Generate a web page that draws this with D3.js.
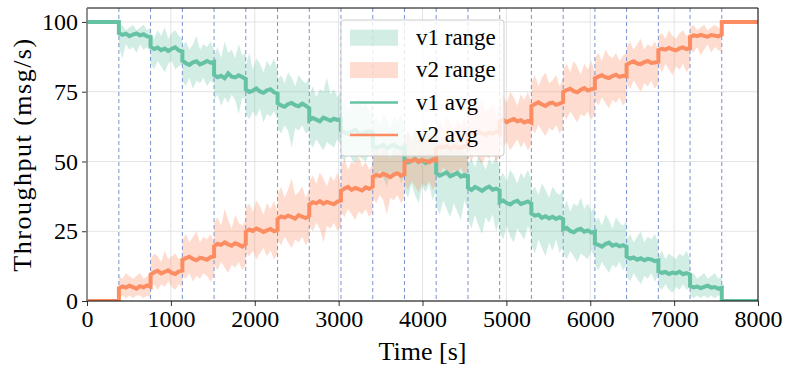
<!DOCTYPE html>
<meta charset="utf-8">
<script src="https://d3js.org/d3.v7.min.js"></script>
<style>
  body { margin: 0; background: #fff; }
  text { font-family: "Liberation Serif", "Times New Roman", serif; fill: #000; }
</style>
<div id="my_dataviz"></div>

<script>
// Phase boundaries in seconds (dashed lines are the inner ones)
var stepBounds = [0, 380, 758, 1137, 1515, 1893, 2272, 2650, 3028, 3407, 3785,
                  4163, 4542, 4920, 5298, 5677, 6055, 6433, 6812, 7190, 7568, 8000];
var xTicks = [0, 1000, 2000, 3000, 4000, 5000, 6000, 7000, 8000];
var yTicks = [0, 25, 50, 75, 100];
var legendLabels = ["v1 range", "v2 range", "v1 avg", "v2 avg"];

// v1: one list of samples per phase
var v1Avg = [
  [100, 100],
  [96.0, 95.4, 95.8, 94.9, 95.5, 95.9, 95.2, 95.6, 94.8, 94.6],
  [91.2, 90.3, 90.8, 89.9, 90.5, 89.6, 90.4, 90.9, 89.8, 89.4],
  [86.1, 85.2, 84.6, 85.5, 85.9, 84.8, 85.3, 86.0, 85.4, 85.7],
  [81.0, 80.2, 80.7, 79.8, 81.6, 80.4, 80.1, 80.9, 80.3, 79.6],
  [75.8, 74.9, 75.4, 76.2, 75.1, 74.6, 75.5, 75.9, 74.8, 74.3],
  [70.9, 70.1, 69.6, 70.6, 71.0, 70.2, 69.8, 70.7, 70.0, 69.1],
  [64.8, 65.6, 65.0, 64.4, 65.7, 65.2, 64.6, 65.3, 64.9, 65.1],
  [61.2, 60.4, 59.8, 60.7, 61.4, 60.1, 59.6, 60.5, 60.9, 60.2],
  [55.6, 54.8, 55.3, 56.0, 54.7, 55.4, 55.9, 55.1, 54.6, 55.2],
  [50.4, 49.6, 50.2, 50.9, 49.8, 50.5, 49.4, 50.1, 50.7, 49.9],
  [45.8, 44.9, 45.5, 46.1, 44.7, 45.3, 45.9, 44.6, 45.2, 44.8],
  [40.6, 39.8, 40.9, 40.2, 39.5, 40.4, 41.0, 39.9, 40.3, 39.6],
  [35.4, 36.0, 35.1, 34.6, 35.5, 35.9, 34.8, 35.2, 35.7, 34.9],
  [31.3, 30.6, 30.9, 29.8, 30.4, 29.6, 30.2, 29.4, 30.0, 29.3],
  [25.7, 26.2, 25.1, 24.6, 25.5, 25.9, 24.8, 25.3, 24.5, 24.9],
  [20.6, 20.1, 19.5, 20.4, 20.9, 19.8, 20.3, 19.6, 20.0, 19.4],
  [15.9, 15.2, 15.6, 14.8, 15.3, 14.6, 15.1, 14.9, 14.3, 14.6],
  [10.6, 10.1, 10.4, 9.7, 10.2, 9.9, 10.5, 9.6, 10.0, 9.5],
  [5.4, 4.9, 5.2, 4.6, 5.1, 5.5, 4.8, 5.0, 4.4, 4.7],
  [0, 0]
];
var v1Hi = [
  [100, 100],
  [98, 99, 97, 98, 99, 97, 98, 99, 97, 98],
  [96, 94, 97, 95, 98, 94, 96, 97, 95, 94],
  [91, 93, 90, 92, 95, 90, 92, 91, 93, 90],
  [88, 91, 87, 93, 89, 90, 87, 92, 88, 89],
  [84, 89, 83, 87, 85, 82, 86, 84, 87, 83],
  [79, 81, 78, 82, 80, 77, 81, 79, 78, 80],
  [74, 77, 73, 76, 75, 80, 74, 76, 73, 75],
  [69, 72, 68, 71, 70, 73, 69, 71, 68, 70],
  [64, 66, 63, 67, 65, 62, 66, 64, 67, 63],
  [59, 61, 58, 62, 60, 57, 61, 59, 62, 58],
  [54, 57, 53, 56, 55, 58, 54, 56, 53, 55],
  [49, 51, 48, 52, 50, 47, 51, 49, 52, 48],
  [44, 46, 43, 47, 45, 42, 46, 44, 47, 43],
  [39, 41, 38, 42, 40, 37, 41, 39, 38, 40],
  [33, 36, 32, 35, 34, 37, 33, 35, 32, 34],
  [28, 30, 27, 31, 29, 26, 30, 28, 27, 29],
  [22, 24, 21, 23, 25, 21, 23, 22, 24, 21],
  [16, 18, 15, 17, 16, 15, 17, 16, 18, 15],
  [9, 10, 8, 9, 10, 8, 9, 10, 8, 9],
  [0, 0]
];
var v1Lo = [
  [100, 100],
  [91, 87, 92, 90, 91, 89, 92, 90, 91, 89],
  [85, 83, 86, 84, 82, 85, 86, 83, 84, 85],
  [79, 77, 80, 76, 79, 78, 80, 77, 79, 78],
  [72, 74, 70, 73, 71, 74, 72, 67, 73, 72],
  [67, 65, 68, 66, 69, 64, 67, 66, 68, 65],
  [62, 60, 63, 61, 55, 62, 61, 63, 60, 61],
  [57, 55, 58, 56, 54, 57, 56, 55, 58, 56],
  [52, 50, 53, 51, 49, 52, 51, 50, 53, 51],
  [45, 43, 47, 44, 41, 46, 44, 47, 42, 45],
  [40, 37, 42, 38, 35, 41, 39, 42, 36, 40],
  [34, 31, 36, 33, 30, 35, 32, 29, 36, 33],
  [29, 26, 31, 27, 24, 30, 28, 31, 25, 29],
  [25, 22, 27, 23, 21, 26, 24, 22, 27, 24],
  [20, 17, 22, 19, 16, 21, 18, 22, 17, 20],
  [17, 15, 18, 16, 14, 17, 16, 15, 18, 16],
  [13, 11, 14, 12, 10, 13, 12, 14, 11, 13],
  [9, 7, 10, 8, 6, 9, 8, 10, 7, 9],
  [5, 4, 6, 4, 3, 5, 4, 6, 4, 5],
  [2, 1, 2, 1, 2, 1, 2, 1, 2, 2],
  [0, 0]
];

// v2
var v2Avg = [
  [0, 0],
  [4.6, 5.2, 4.8, 5.5, 5.0, 4.4, 5.3, 4.9, 5.6, 5.1],
  [9.5, 10.3, 10.8, 9.9, 10.4, 11.0, 10.1, 9.7, 10.6, 10.9],
  [14.7, 15.4, 15.9, 15.1, 14.6, 15.5, 15.2, 14.8, 15.7, 16.0],
  [19.6, 20.5, 20.1, 21.0, 20.3, 19.8, 20.7, 20.2, 19.5, 20.4],
  [24.8, 25.6, 25.1, 26.0, 25.4, 24.7, 25.3, 25.8, 25.0, 25.5],
  [29.4, 30.3, 29.9, 30.6, 30.1, 29.5, 30.8, 30.2, 29.7, 30.5],
  [34.6, 35.4, 35.0, 35.8, 34.9, 35.5, 35.1, 34.7, 35.6, 36.0],
  [39.5, 40.3, 40.9, 39.8, 40.5, 40.1, 39.6, 40.7, 40.2, 41.0],
  [44.5, 45.2, 44.8, 45.6, 45.0, 44.4, 45.3, 45.8, 44.9, 45.4],
  [49.6, 50.4, 50.1, 50.8, 49.9, 50.5, 50.2, 49.7, 50.6, 50.3],
  [54.7, 55.3, 55.0, 55.7, 54.6, 55.4, 55.1, 54.8, 55.5, 55.2],
  [59.6, 60.3, 59.9, 60.6, 60.1, 59.5, 60.4, 60.0, 60.7, 60.2],
  [64.3, 64.9, 64.1, 64.7, 65.2, 64.4, 64.8, 64.0, 64.5, 63.9],
  [69.8, 70.6, 71.2, 70.4, 69.9, 70.8, 71.1, 70.3, 70.7, 71.3],
  [74.9, 75.6, 76.1, 75.2, 74.8, 75.7, 76.3, 75.4, 75.9, 76.2],
  [79.8, 80.4, 80.9, 80.2, 79.9, 80.6, 81.1, 80.3, 80.7, 80.5],
  [84.7, 85.4, 85.9, 85.1, 84.9, 85.6, 86.0, 85.3, 85.5, 85.8],
  [89.9, 90.4, 90.1, 90.7, 90.2, 89.8, 90.5, 90.9, 90.3, 90.6],
  [94.6, 95.2, 94.9, 95.4, 95.0, 94.7, 95.3, 95.1, 94.8, 95.5],
  [100, 100]
];
var v2Hi = [
  [0, 0],
  [9, 8, 10, 9, 8, 9, 10, 8, 9, 9],
  [15, 17, 16, 14, 18, 15, 16, 17, 15, 16],
  [22, 24, 21, 23, 25, 21, 23, 22, 24, 21],
  [28, 30, 27, 33, 29, 26, 31, 28, 27, 29],
  [33, 35, 32, 36, 34, 31, 35, 33, 36, 32],
  [38, 41, 37, 40, 44, 38, 39, 41, 37, 40],
  [43, 45, 42, 46, 44, 41, 45, 43, 46, 42],
  [48, 51, 47, 50, 49, 52, 48, 50, 47, 49],
  [53, 55, 52, 56, 54, 51, 55, 53, 56, 52],
  [58, 61, 57, 60, 62, 58, 59, 61, 57, 60],
  [63, 65, 62, 66, 64, 61, 65, 63, 66, 62],
  [68, 71, 67, 70, 72, 68, 69, 71, 67, 70],
  [72, 74, 71, 75, 73, 70, 74, 72, 75, 71],
  [78, 81, 77, 80, 82, 78, 79, 81, 77, 80],
  [83, 85, 82, 86, 84, 81, 85, 83, 86, 82],
  [87, 89, 86, 90, 88, 87, 89, 86, 88, 89],
  [91, 93, 90, 92, 94, 90, 92, 91, 93, 90],
  [95, 96, 94, 97, 95, 94, 96, 97, 95, 96],
  [98, 99, 97, 98, 99, 97, 98, 99, 98, 97],
  [100, 100]
];
var v2Lo = [
  [0, 0],
  [1, 2, 1, 2, 1, 2, 2, 1, 2, 1],
  [5, 6, 4, 6, 5, 7, 5, 4, 6, 5],
  [9, 8, 10, 7, 9, 8, 10, 9, 7, 9],
  [13, 11, 14, 12, 10, 13, 12, 14, 11, 13],
  [17, 16, 18, 15, 17, 19, 16, 18, 15, 17],
  [22, 20, 23, 21, 19, 22, 21, 23, 20, 22],
  [27, 25, 28, 26, 21, 27, 26, 28, 25, 27],
  [32, 30, 33, 31, 29, 32, 31, 33, 30, 32],
  [37, 35, 38, 36, 31, 37, 36, 38, 35, 37],
  [42, 40, 43, 41, 39, 42, 41, 43, 40, 42],
  [47, 45, 48, 46, 44, 47, 46, 48, 45, 47],
  [52, 50, 53, 51, 49, 52, 51, 53, 50, 52],
  [56, 55, 57, 54, 56, 58, 55, 57, 54, 56],
  [62, 60, 63, 61, 59, 62, 61, 63, 60, 62],
  [67, 65, 68, 66, 64, 67, 66, 68, 65, 67],
  [72, 70, 73, 71, 69, 72, 71, 73, 70, 72],
  [78, 76, 79, 77, 75, 78, 77, 79, 76, 78],
  [84, 82, 85, 83, 81, 84, 83, 85, 82, 84],
  [90, 89, 91, 88, 90, 92, 89, 91, 90, 89],
  [100, 100]
];

var colorV1 = "#66c2a5", colorV2 = "#fc8d62";

// Dimensions
var margin = {top: 8, right: 34, bottom: 74, left: 87},
    width = 792 - margin.left - margin.right,
    height = 375 - margin.top - margin.bottom;

var svg = d3.select("#my_dataviz")
            .append("svg")
            .attr("width", width + margin.left + margin.right)
            .attr("height", height + margin.top + margin.bottom)
            .append("g")
            .attr("transform", "translate(" + margin.left + "," + margin.top + ")");

var x = d3.scaleLinear().domain([0, 8000]).range([0, width]);
var y = d3.scaleLinear().domain([0, 105]).range([height, 0]);

// Samples are spread evenly across each phase
function buildSeries(avg, lo, hi) {
  var pts = [];
  avg.forEach(function(vals, k) {
    var t0 = stepBounds[k], t1 = stepBounds[k + 1];
    vals.forEach(function(v, i) {
      pts.push({t: t0 + (t1 - t0) * i / (vals.length - 1), avg: v, lo: lo[k][i], hi: hi[k][i]});
    });
  });
  return pts;
}
var s1 = buildSeries(v1Avg, v1Lo, v1Hi);
var s2 = buildSeries(v2Avg, v2Lo, v2Hi);

svg.append("clipPath").attr("id", "clip")
   .append("rect").attr("width", width).attr("height", height);

// Grid
svg.append("g").selectAll("line").data(xTicks).enter().append("line")
   .attr("x1", function(d) { return x(d); }).attr("x2", function(d) { return x(d); })
   .attr("y1", 0).attr("y2", height)
   .attr("stroke", "#e3e3e3").attr("stroke-width", 1);
svg.append("g").selectAll("line").data(yTicks).enter().append("line")
   .attr("x1", 0).attr("x2", width)
   .attr("y1", function(d) { return y(d); }).attr("y2", function(d) { return y(d); })
   .attr("stroke", "#e3e3e3").attr("stroke-width", 1);

var plot = svg.append("g").attr("clip-path", "url(#clip)");

var area = d3.area()
             .x(function(d) { return x(d.t); })
             .y0(function(d) { return y(d.lo); })
             .y1(function(d) { return y(d.hi); });
var line = d3.line()
             .x(function(d) { return x(d.t); })
             .y(function(d) { return y(d.avg); });

plot.append("path").datum(s1).attr("d", area).attr("fill", colorV1).attr("fill-opacity", 0.3);
plot.append("path").datum(s2).attr("d", area).attr("fill", colorV2).attr("fill-opacity", 0.3);

// Phase changes
plot.append("g").selectAll("line").data(stepBounds.slice(1, -1)).enter().append("line")
    .attr("x1", function(d) { return x(d); }).attr("x2", function(d) { return x(d); })
    .attr("y1", 0).attr("y2", height)
    .attr("stroke", "#7b93d1").attr("stroke-width", 1)
    .attr("stroke-dasharray", "4,3");

plot.append("path").datum(s1).attr("d", line)
    .attr("fill", "none").attr("stroke", colorV1).attr("stroke-width", 4)
    .attr("stroke-linejoin", "miter");
plot.append("path").datum(s2).attr("d", line)
    .attr("fill", "none").attr("stroke", colorV2).attr("stroke-width", 4)
    .attr("stroke-linejoin", "miter");

// Axes
var xAxis = svg.append("g")
               .attr("transform", "translate(0," + height + ")")
               .call(d3.axisBottom(x).tickValues(xTicks).tickFormat(d3.format("d"))
                       .tickSize(5).tickSizeOuter(0).tickPadding(4));
var yAxis = svg.append("g")
               .call(d3.axisLeft(y).tickValues(yTicks).tickFormat(d3.format("d"))
                       .tickSize(5).tickSizeOuter(0).tickPadding(4));
[xAxis, yAxis].forEach(function(a) {
  a.select(".domain").remove();
  a.selectAll("text").attr("font-size", 24).attr("font-family", "Liberation Serif").attr("fill", "#000");
  a.selectAll(".tick line").attr("stroke", "#333");
});

// Spines
svg.append("line").attr("x1", 0).attr("x2", width).attr("y1", 0).attr("y2", 0).attr("stroke", "#000");
svg.append("line").attr("x1", width).attr("x2", width).attr("y1", 0).attr("y2", height).attr("stroke", "#000");
svg.append("line").attr("x1", 0).attr("x2", width).attr("y1", height).attr("y2", height).attr("stroke", "#000");
svg.append("line").attr("x1", 0).attr("x2", 0).attr("y1", 0).attr("y2", height)
   .attr("stroke", "#7a7a7a").attr("stroke-width", 1.6);

// Axis labels
svg.append("text")
   .attr("x", width / 2).attr("y", height + 59)
   .attr("text-anchor", "middle").attr("font-size", 26)
   .text("Time [s]");
svg.append("text")
   .attr("transform", "translate(" + (-56) + "," + (height / 2) + ") rotate(-90)")
   .attr("text-anchor", "middle").attr("font-size", 26).attr("letter-spacing", 1.5)
   .text("Throughput (msg/s)");

// Legend
var legend = svg.append("g").attr("transform", "translate(254,12)");
legend.append("rect")
      .attr("width", 163).attr("height", 136).attr("rx", 3)
      .attr("fill", "#fff").attr("fill-opacity", 0.8)
      .attr("stroke", "#cccccc").attr("stroke-width", 1);
var entries = legend.selectAll("g.entry").data(legendLabels).enter().append("g")
      .attr("transform", function(d, i) { return "translate(9," + (17.7 + i * 32.4) + ")"; });
entries.each(function(d, i) {
  var g = d3.select(this);
  var c = (i % 2 === 0) ? colorV1 : colorV2;
  if (i < 2) {
    g.append("rect").attr("x", 0).attr("y", -8).attr("width", 48).attr("height", 16)
     .attr("fill", c).attr("fill-opacity", 0.3);
  } else {
    g.append("line").attr("x1", 0).attr("x2", 48).attr("y1", 0).attr("y2", 0)
     .attr("stroke", c).attr("stroke-width", 2.5);
  }
  g.append("text").attr("x", 66).attr("y", 7).attr("font-size", 23).text(d);
});
</script>
